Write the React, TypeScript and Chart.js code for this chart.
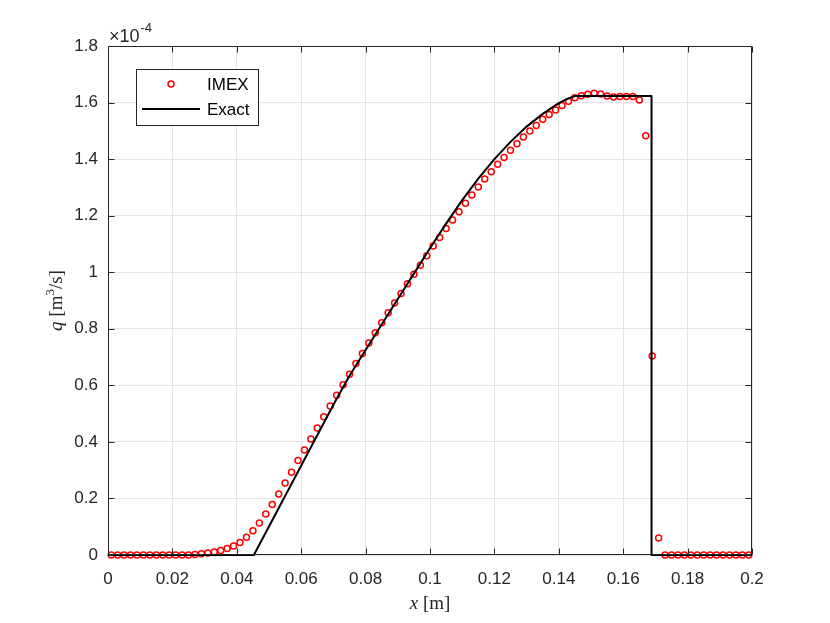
import React, { useEffect, useRef } from "react";
import { Chart, registerables } from "chart.js";

Chart.register(...registerables);

// Cell-centre positions x [m]
const xCells = [
  0.001, 0.003, 0.005, 0.007, 0.009, 0.011, 0.013, 0.015, 0.017, 0.019,
  0.021, 0.023, 0.025, 0.027, 0.029, 0.031, 0.033, 0.035, 0.037, 0.039,
  0.041, 0.043, 0.045, 0.047, 0.049, 0.051, 0.053, 0.055, 0.057, 0.059,
  0.061, 0.063, 0.065, 0.067, 0.069, 0.071, 0.073, 0.075, 0.077, 0.079,
  0.081, 0.083, 0.085, 0.087, 0.089, 0.091, 0.093, 0.095, 0.097, 0.099,
  0.101, 0.103, 0.105, 0.107, 0.109, 0.111, 0.113, 0.115, 0.117, 0.119,
  0.121, 0.123, 0.125, 0.127, 0.129, 0.131, 0.133, 0.135, 0.137, 0.139,
  0.141, 0.143, 0.145, 0.147, 0.149, 0.151, 0.153, 0.155, 0.157, 0.159,
  0.161, 0.163, 0.165, 0.167, 0.169, 0.171, 0.173, 0.175, 0.177, 0.179,
  0.181, 0.183, 0.185, 0.187, 0.189, 0.191, 0.193, 0.195, 0.197, 0.199,
];

// IMEX q values, in units of 1e-4 m^3/s
const qImex = [
  0, 0, 0, 0, 0, 0, 0, 0, 0, 0,
  0, 0, 0, 0.002, 0.004, 0.007, 0.011, 0.016, 0.023, 0.032,
  0.044, 0.063, 0.086, 0.113, 0.145, 0.179, 0.216, 0.255, 0.293, 0.334,
  0.371, 0.41, 0.449, 0.489, 0.527, 0.565, 0.602, 0.639, 0.677, 0.713,
  0.75, 0.786, 0.821, 0.857, 0.891, 0.925, 0.959, 0.993, 1.025, 1.058,
  1.093, 1.123, 1.155, 1.185, 1.214, 1.244, 1.273, 1.301, 1.33, 1.355,
  1.382, 1.406, 1.431, 1.454, 1.478, 1.499, 1.519, 1.541, 1.558, 1.574,
  1.59, 1.605, 1.617, 1.624, 1.629, 1.633, 1.63, 1.623, 1.62, 1.621,
  1.621, 1.621, 1.609, 1.483, 0.704, 0.06, 0, 0, 0, 0,
  0, 0, 0, 0, 0, 0, 0, 0, 0, 0,
];

// Exact solution, x [m] and q in units of 1e-4 m^3/s
const xExact = [
  0, 0.0453, 0.0705, 0.075, 0.08, 0.085, 0.09, 0.095, 0.1, 0.105, 0.11, 0.115,
  0.12, 0.125, 0.13, 0.135, 0.14, 0.1425, 0.145, 0.1688, 0.1688, 0.2,
];
const qExact = [
  0, 0, 0.542, 0.634, 0.725, 0.815, 0.905, 0.995, 1.085, 1.172, 1.255, 1.331,
  1.4, 1.461, 1.515, 1.56, 1.598, 1.612, 1.623, 1.623, 0, 0,
];

const xTickLabels = ["0", "0.02", "0.04", "0.06", "0.08", "0.1", "0.12", "0.14", "0.16", "0.18", "0.2"];
const yTickLabels = ["0", "0.2", "0.4", "0.6", "0.8", "1", "1.2", "1.4", "1.6", "1.8"];

const seriesNames = ["IMEX", "Exact"];
const multiplierText = ["\u00d710", "-4"];

const AXIS_COLOR = "#262626";
const SANS = '"Liberation Sans", Arial, Helvetica, sans-serif';
const SERIF = '"Liberation Serif", "DejaVu Serif", "Times New Roman", serif';

const decorPlugin = {
  id: "decor",
  afterDatasetsDraw(chart: any) {
    const { ctx, chartArea: a, scales } = chart;
    const L = Math.round(a.left) + 0.5;
    const R = Math.round(a.right) - 0.5;
    const T = Math.round(a.top) + 0.5;
    const B = Math.round(a.bottom) - 0.5;
    ctx.save();
    ctx.strokeStyle = AXIS_COLOR;
    ctx.lineWidth = 1;
    ctx.beginPath();
    ctx.rect(L, T, R - L, B - T);
    ctx.stroke();
    const tl = 6;
    ctx.beginPath();
    scales.x.ticks.forEach((t: any) => {
      const px = Math.round(scales.x.getPixelForValue(t.value)) + 0.5;
      ctx.moveTo(px, B);
      ctx.lineTo(px, B - tl);
      ctx.moveTo(px, T);
      ctx.lineTo(px, T + tl);
    });
    scales.y.ticks.forEach((t: any) => {
      const py = Math.round(scales.y.getPixelForValue(t.value)) + 0.5;
      ctx.moveTo(L, py);
      ctx.lineTo(L + tl, py);
      ctx.moveTo(R, py);
      ctx.lineTo(R - tl, py);
    });
    ctx.stroke();
    ctx.restore();
  },
  afterDraw(chart: any) {
    const { ctx, chartArea: a } = chart;
    ctx.save();
    ctx.fillStyle = AXIS_COLOR;

    // multiplier x10^-4
    ctx.textBaseline = "alphabetic";
    ctx.textAlign = "left";
    ctx.font = `18px ${SANS}`;
    ctx.fillText(multiplierText[0], a.left + 1, a.top - 4);
    const w10 = ctx.measureText(multiplierText[0]).width;
    ctx.font = `13px ${SANS}`;
    ctx.fillText(multiplierText[1], a.left + 1 + w10 + 1, a.top - 14);

    // x axis title: x [m]
    const xc = (a.left + a.right) / 2;
    const partsX = [
      { t: "x", f: `italic 19px ${SERIF}` },
      { t: " [m]", f: `19px ${SERIF}` },
    ];
    let totalX = 0;
    partsX.forEach((p) => {
      ctx.font = p.f;
      totalX += ctx.measureText(p.t).width;
    });
    let cx = xc - totalX / 2;
    const by = 609;
    partsX.forEach((p) => {
      ctx.font = p.f;
      ctx.fillText(p.t, cx, by);
      cx += ctx.measureText(p.t).width;
    });

    // y axis title: q [m^3/s]
    const yc = (a.top + a.bottom) / 2;
    const partsY = [
      { t: "q", f: `italic 19px ${SERIF}`, dy: 0 },
      { t: " [m", f: `19px ${SERIF}`, dy: 0 },
      { t: "3", f: `13px ${SERIF}`, dy: -8 },
      { t: "/s]", f: `19px ${SERIF}`, dy: 0 },
    ];
    let totalY = 0;
    partsY.forEach((p) => {
      ctx.font = p.f;
      totalY += ctx.measureText(p.t).width;
    });
    ctx.translate(62, yc);
    ctx.rotate(-Math.PI / 2);
    let cy = -totalY / 2;
    partsY.forEach((p) => {
      ctx.font = p.f;
      ctx.fillText(p.t, cy, p.dy);
      cy += ctx.measureText(p.t).width;
    });
    ctx.setTransform(1, 0, 0, 1, 0, 0);

    // legend
    const lx = 136.5, ly = 69.5, lw = 122, lh = 56;
    ctx.fillStyle = "#ffffff";
    ctx.fillRect(lx, ly, lw, lh);
    ctx.strokeStyle = AXIS_COLOR;
    ctx.lineWidth = 1;
    ctx.strokeRect(lx, ly, lw, lh);
    ctx.strokeStyle = "#ff0000";
    ctx.lineWidth = 1.5;
    ctx.beginPath();
    ctx.arc(171, 84, 3, 0, Math.PI * 2);
    ctx.stroke();
    ctx.strokeStyle = "#000000";
    ctx.lineWidth = 2;
    ctx.beginPath();
    ctx.moveTo(142, 109);
    ctx.lineTo(200, 109);
    ctx.stroke();
    ctx.fillStyle = "#000000";
    ctx.font = `17px ${SANS}`;
    ctx.textBaseline = "middle";
    ctx.textAlign = "left";
    ctx.fillText(seriesNames[0], 207, 85);
    ctx.fillText(seriesNames[1], 207, 110);
    ctx.restore();
  },
};

export default function App() {
  const ref = useRef<HTMLCanvasElement | null>(null);
  useEffect(() => {
    if (!ref.current) return;
    const imexPts = xCells.map((x, i) => ({ x, y: qImex[i] }));
    const exactPts = xExact.map((x, i) => ({ x, y: qExact[i] }));
    const chart = new Chart(ref.current, {
      type: "scatter",
      data: {
        datasets: [
          {
            label: seriesNames[1],
            data: exactPts,
            showLine: true,
            borderColor: "#000000",
            borderWidth: 2,
            borderJoinStyle: "round",
            pointRadius: 0,
            pointHoverRadius: 0,
            tension: 0,
            clip: false as any,
          } as any,
          {
            label: seriesNames[0],
            data: imexPts,
            showLine: false,
            pointStyle: "circle",
            pointRadius: 3,
            pointBorderWidth: 1.5,
            borderColor: "#ff0000",
            pointBorderColor: "#ff0000",
            backgroundColor: "rgba(0,0,0,0)",
            pointBackgroundColor: "rgba(0,0,0,0)",
            clip: false as any,
          } as any,
        ],
      },
      options: {
        animation: false,
        responsive: false,
        devicePixelRatio: 1,
        events: [],
        layout: { padding: { left: 0, right: 78, top: 46, bottom: 0 } },
        plugins: { legend: { display: false }, tooltip: { enabled: false } },
        scales: {
          x: {
            type: "linear",
            min: 0,
            max: 0.2,
            afterFit: (s: any) => {
              s.height = 68;
            },
            border: { display: false },
            grid: { color: "#e3e3e3", lineWidth: 1, drawTicks: false },
            ticks: {
              stepSize: 0.02,
              padding: 14,
              color: AXIS_COLOR,
              font: { family: SANS, size: 17 },
              maxRotation: 0,
              autoSkip: false,
              callback: (v: any) => {
                const i = Math.round(Number(v) / 0.02);
                return xTickLabels[i] ?? "";
              },
            },
          },
          y: {
            type: "linear",
            min: 0,
            max: 1.8,
            afterFit: (s: any) => {
              s.width = 108;
            },
            border: { display: false },
            grid: { color: "#e3e3e3", lineWidth: 1, drawTicks: false },
            ticks: {
              stepSize: 0.2,
              padding: 10,
              color: AXIS_COLOR,
              font: { family: SANS, size: 17 },
              autoSkip: false,
              callback: (v: any) => {
                const i = Math.round(Number(v) / 0.2);
                return yTickLabels[i] ?? "";
              },
            },
          },
        },
      },
      plugins: [decorPlugin],
    });
    return () => chart.destroy();
  }, []);
  return (
    <div style={{ position: "fixed", left: 0, top: 0, width: 830, height: 623, background: "#ffffff" }}>
      <canvas ref={ref} width={830} height={623} style={{ display: "block", width: 830, height: 623 }} />
    </div>
  );
}
